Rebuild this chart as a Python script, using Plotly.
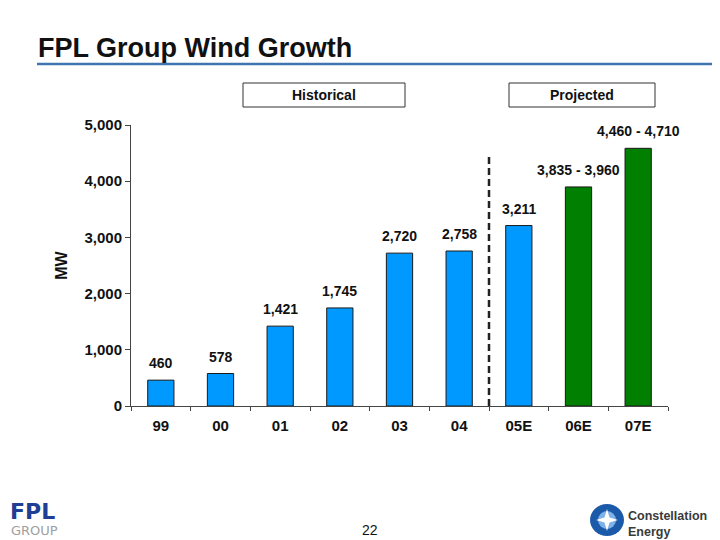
import plotly.graph_objects as go

# данные
years = ["99", "00", "01", "02", "03", "04", "05E", "06E", "07E"]
mw = [460, 578, 1421, 1745, 2720, 2758, 3211, 3898, 4585]
labels = ["460", "578", "1,421", "1,745", "2,720", "2,758", "3,211",
          "3,835 - 3,960", "4,460 - 4,710"]
bar_colors = ["#0099FF"] * 7 + ["#007F00"] * 2
y_ticks = [0, 1000, 2000, 3000, 4000, 5000]
y_tick_text = ["0", "1,000", "2,000", "3,000", "4,000", "5,000"]

# страница в браузере сдвинута на 8px (отступ body), поэтому фигура чуть меньше
OFF = 8
W, H = 720 - OFF, 540 - OFF
L, R, T, B = 123, 52, 117, 134
FONT = "Liberation Sans, Arial, sans-serif"


def px(x):
    # пиксели окна -> координаты paper
    return (x - OFF - L) / (W - L - R)


def py(y):
    return (H - B - (y - OFF)) / (H - T - B)


def note(text, x, y, size, color="#111", xanchor="center", family=FONT):
    fig.add_annotation(text=text, xref="paper", yref="paper", x=px(x), y=py(y),
                       xanchor=xanchor, yanchor="middle", showarrow=False,
                       font=dict(family=family, size=size, color=color))


fig = go.Figure(go.Bar(
    x=years, y=mw,
    marker=dict(color=bar_colors, line=dict(color="#1a1a1a", width=1)),
    width=0.44,
))

# подписи над столбцами (x - номер категории, иначе "99" читается как число)
for i, (v, lab) in enumerate(zip(mw, labels)):
    fig.add_annotation(x=i, y=v, text="<b>%s</b>" % lab, showarrow=False,
                       yanchor="middle", yshift=17,
                       font=dict(family=FONT, size=14, color="#111"))

fig.update_layout(
    width=W, height=H, margin=dict(l=L, r=R, t=T, b=B),
    plot_bgcolor="white", paper_bgcolor="white", showlegend=False,
    font=dict(family=FONT, size=14, color="#111"),
)
fig.update_xaxes(
    type="category", range=[-0.5, len(years) - 0.5],
    tickvals=years, ticktext=["<b>%s</b>" % y for y in years],
    showline=True, linecolor="#444", linewidth=1,
    tickfont=dict(family=FONT, size=15, color="#111"),
    ticks="outside", ticklen=4, tickcolor="#444", tickson="boundaries",
    ticklabelstandoff=6, showgrid=False,
)
fig.update_yaxes(
    range=[0, 5000], tickvals=y_ticks,
    ticktext=["<b>%s</b>" % t for t in y_tick_text],
    showline=True, linecolor="#444", linewidth=1, showgrid=False,
    ticks="outside", ticklen=5, tickcolor="#444", zeroline=False,
    tickfont=dict(family=FONT, size=15, color="#111"),
    title=dict(text="<b>MW</b>", font=dict(family=FONT, size=16, color="#111"),
               standoff=12),
)

# пунктир между историей и прогнозом
fig.add_shape(type="line", xref="x", yref="y", x0=5.5, x1=5.5, y0=0, y1=4430,
              line=dict(color="#222", width=2.5, dash="7px,4px"))

# заголовок и линия под ним
note("<b>FPL Group Wind Growth</b>", 36, 48, 27, xanchor="left")
fig.add_shape(type="line", xref="paper", yref="paper", x0=px(37), x1=px(713),
              y0=py(64), y1=py(64), line=dict(color="#3F74AE", width=2.5))

# рамки Historical / Projected
for name, x0, x1 in [("Historical", 243, 405), ("Projected", 509, 655)]:
    fig.add_shape(type="rect", xref="paper", yref="paper", x0=px(x0), x1=px(x1),
                  y0=py(107), y1=py(83), line=dict(color="#333", width=1),
                  fillcolor="white")
    note("<b>%s</b>" % name, (x0 + x1) / 2, 95, 14)

# номер страницы
note("22", 370, 530, 14)

# логотип FPL Group
note("<b>FPL</b>", 8, 512, 22, color="#1E3F94", xanchor="left", family="DejaVu Sans")
note("GROUP", 9, 530, 13, color="#A0A0A0", xanchor="left", family="DejaVu Sans")

# логотип Constellation Energy
fig.add_shape(type="circle", xref="paper", yref="paper", x0=px(590), x1=px(624),
              y0=py(536), y1=py(504), fillcolor="#1B5AA8", line=dict(width=0))
fig.add_shape(type="circle", xref="paper", yref="paper", x0=px(598), x1=px(616),
              y0=py(529), y1=py(511), fillcolor="#7FB2E8", line=dict(width=0))
cx, cy = 607, 520
pts = [(0, -11), (2.5, -2.5), (11, 0), (2.5, 2.5), (0, 11), (-2.5, 2.5),
       (-11, 0), (-2.5, -2.5)]
star = "M " + " L ".join("%f %f" % (px(cx + dx), py(cy + dy)) for dx, dy in pts) + " Z"
fig.add_shape(type="path", xref="paper", yref="paper", path=star,
              fillcolor="white", line=dict(width=0))
note("<b>Constellation</b>", 626, 516, 12.5, color="#3A3A3A", xanchor="left")
note("<b>Energy</b>", 626, 532, 12.5, color="#3A3A3A", xanchor="left")

fig.write_html("out.html")
